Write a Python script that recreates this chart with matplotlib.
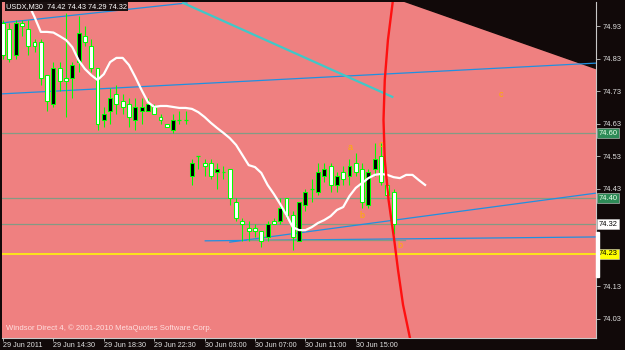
import matplotlib
matplotlib.use("Agg")
import matplotlib.pyplot as plt
import matplotlib.transforms as mtransforms

plt.rcParams["font.family"] = ["Liberation Sans", "DejaVu Sans"]

# ---- data (USDX M30, 29-30 Jun 2011) ----
opens = [74.94, 74.92, 74.84, 74.94, 74.92, 74.88, 74.88, 74.78, 74.69, 74.80,
         74.77, 74.77, 74.82, 74.90, 74.87, 74.80, 74.64, 74.67, 74.72, 74.70,
         74.69, 74.64, 74.67, 74.67, 74.68, 74.65, 74.63, 74.61, 74.64, 74.64,
         74.47, 74.53, 74.51, 74.51, 74.48, 74.48, 74.49, 74.39, 74.33, 74.31,
         74.31, 74.30, 74.28, 74.33, 74.33, 74.40, 74.35, 74.27, 74.38, 74.43,
         74.42, 74.47, 74.50, 74.44, 74.48, 74.47, 74.51, 74.49, 74.38, 74.49,
         74.53, 74.44, 74.42]
highs = [74.95, 74.94, 74.95, 74.95, 74.95, 74.89, 74.89, 74.78, 74.82, 74.82,
         74.97, 74.82, 74.96, 74.93, 74.89, 74.80, 74.68, 74.74, 74.75, 74.72,
         74.71, 74.71, 74.71, 74.71, 74.69, 74.66, 74.63, 74.66, 74.67, 74.67,
         74.52, 74.53, 74.52, 74.52, 74.51, 74.50, 74.49, 74.40, 74.34, 74.33,
         74.32, 74.30, 74.33, 74.34, 74.40, 74.40, 74.36, 74.39, 74.43, 74.46,
         74.51, 74.51, 74.51, 74.48, 74.50, 74.52, 74.54, 74.51, 74.49, 74.57,
         74.57, 74.46, 74.43]
lows = [74.83, 74.82, 74.83, 74.90, 74.84, 74.85, 74.75, 74.67, 74.68, 74.73,
        74.65, 74.71, 74.79, 74.87, 74.79, 74.61, 74.62, 74.63, 74.66, 74.66,
        74.62, 74.61, 74.63, 74.67, 74.66, 74.63, 74.62, 74.60, 74.63, 74.63,
        74.44, 74.49, 74.47, 74.46, 74.43, 74.46, 74.38, 74.33, 74.27, 74.27,
        74.28, 74.25, 74.27, 74.32, 74.32, 74.34, 74.24, 74.27, 74.36, 74.39,
        74.41, 74.45, 74.42, 74.42, 74.44, 74.44, 74.47, 74.37, 74.37, 74.47,
        74.44, 74.41, 74.29]
closes = [74.84, 74.83, 74.94, 74.93, 74.87, 74.87, 74.77, 74.70, 74.80, 74.76,
          74.76, 74.81, 74.91, 74.88, 74.80, 74.63, 74.66, 74.71, 74.69, 74.68,
          74.65, 74.68, 74.68, 74.69, 74.66, 74.64, 74.62, 74.64, 74.64, 74.64,
          74.51, 74.53, 74.50, 74.47, 74.49, 74.48, 74.40, 74.34, 74.32, 74.30,
          74.30, 74.27, 74.32, 74.32, 74.37, 74.35, 74.28, 74.39, 74.42, 74.43,
          74.48, 74.49, 74.44, 74.47, 74.46, 74.50, 74.48, 74.39, 74.48, 74.52,
          74.45, 74.41, 74.32]

# shifted moving average, starts at bar 3
ma_start = 3
ma_values = [75.035, 74.999, 74.958, 74.912, 74.912, 74.910, 74.899, 74.887, 74.865, 74.825,
             74.798, 74.779, 74.764, 74.782, 74.819, 74.832, 74.832, 74.810, 74.773, 74.733,
             74.696, 74.681, 74.684, 74.684, 74.681, 74.678, 74.678, 74.675, 74.665, 74.650,
             74.632, 74.616, 74.601, 74.585, 74.564, 74.533, 74.502, 74.496, 74.478, 74.441,
             74.413, 74.382, 74.348, 74.311, 74.302, 74.302, 74.311, 74.324, 74.333, 74.345,
             74.364, 74.373, 74.407, 74.432, 74.447, 74.462, 74.472, 74.475, 74.472, 74.465,
             74.462, 74.472, 74.472, 74.456, 74.441]

time_ticks = [0, 8, 16, 24, 32, 40, 48, 56]
time_labels = ["29 Jun 2011", "29 Jun 14:30", "29 Jun 18:30", "29 Jun 22:30",
               "30 Jun 03:00", "30 Jun 07:00", "30 Jun 11:00", "30 Jun 15:00"]
price_ticks = [74.93, 74.83, 74.73, 74.63, 74.53, 74.43, 74.13, 74.03]

# horizontal levels
gray_levels = [74.60, 74.40, 74.32]
yellow_level = 74.23
price_boxes = [(74.60, "#2e8b57", "#e8ffe8"), (74.40, "#2e8b57", "#e8ffe8"),
               (74.32, "#ffffff", "#000000"), (74.23, "#ffff00", "#000000")]

# trend lines (bar index, price)
cyan_x, cyan_y = [28.6, 61.8], [75.001, 74.712]
blue_top_x, blue_top_y = [-0.5, 29.2], [74.939, 75.001]
blue_mid_x, blue_mid_y = [-0.5, 94.2], [74.721, 74.816]
blue_low_x, blue_low_y = [36.0, 94.2], [74.265, 74.416]
blue_flat_x, blue_flat_y = [32.1, 94.2], [74.269, 74.281]
gray_seg_x, gray_seg_y = [38.7, 63.8], [74.272, 74.272]

# red arc
arc_x = [61.9, 61.1, 60.6, 60.4, 60.6, 61.2, 62.1, 62.7, 63.5, 64.6]
arc_y = [75.010, 74.887, 74.764, 74.641, 74.518, 74.395, 74.272, 74.180, 74.072, 73.970]

# black area top right
shade_x = [61.9, 95.0, 95.0]
shade_y = [75.02, 75.02, 74.795]

wave_labels = ["a", "c", "b", "b", "c"]
wave_x = [55.1, 60.0, 57.0, 63.0, 79.0]
wave_y = [74.555, 74.564, 74.348, 74.256, 74.718]

BG = "#110909"
PINK = "#ef8080"
AXC = "#c8c8c8"

fig = plt.figure(figsize=(6.25, 3.5), dpi=100, facecolor=BG)
ax = fig.add_axes([2 / 625, 12 / 350, 594 / 625, 336 / 350])
ax.set_facecolor(PINK)
ax.set_xlim(-0.16, 94.13)
ax.set_ylim(73.970, 75.004)

ax.fill(shade_x, shade_y, color=BG, zorder=1)

for lv in gray_levels:
    ax.axhline(lv, color="#849a84", lw=0.9, zorder=2)
ax.axhline(yellow_level, color="#ffff00", lw=1.1, zorder=2)

ax.plot(blue_top_x, blue_top_y, color="#2090e0", lw=0.9, zorder=2)
ax.plot(blue_mid_x, blue_mid_y, color="#2090e0", lw=0.9, zorder=2)
ax.plot(blue_low_x, blue_low_y, color="#2090e0", lw=0.9, zorder=2)
ax.plot(blue_flat_x, blue_flat_y, color="#2090e0", lw=0.9, zorder=2)
ax.plot(gray_seg_x, gray_seg_y, color="#849a84", lw=0.9, zorder=2)
ax.plot(cyan_x, cyan_y, color="#40c8c8", lw=1.6, zorder=2)

# candles
w = 0.62
for i in range(len(opens)):
    o, h, l, c = opens[i], highs[i], lows[i], closes[i]
    ax.vlines(i, l, h, color="#00ff00", lw=0.75, zorder=3)
    if abs(c - o) < 0.005:
        ax.hlines(o, i - w / 2, i + w / 2, color="#00ff00", lw=0.9, zorder=4)
    else:
        face = "#000000" if c > o else "#ffffff"
        ax.bar(i, abs(c - o), bottom=min(o, c), width=w, color=face,
               edgecolor="#00ff00", linewidth=0.75, zorder=4)

ma_x = list(range(ma_start, ma_start + len(ma_values)))
ax.plot(ma_x, ma_values, color="#ffffff", lw=1.6, zorder=5)

ax.plot(arc_x, arc_y, color="#ff1010", lw=1.7, zorder=6)

for t, xx, yy in zip(wave_labels, wave_x, wave_y):
    ax.text(xx, yy, t, color="#ffb000", fontsize=6.5, ha="center", va="center", zorder=7)

# axes styling
for s in ["left", "top"]:
    ax.spines[s].set_visible(False)
for s in ["right", "bottom"]:
    ax.spines[s].set_color(AXC)
    ax.spines[s].set_linewidth(0.8)

ax.yaxis.tick_right()
ax.set_yticks(price_ticks)
ax.set_yticklabels([f"{p:.2f}" for p in price_ticks])
ax.tick_params(axis="y", colors=AXC, labelsize=5.4, length=3, width=0.6, pad=2)
ax.set_xticks(time_ticks)
ax.set_xticklabels(time_labels, ha="left")
ax.tick_params(axis="x", colors=AXC, labelsize=5.2, length=2.5, width=0.6, pad=0.5)
for lab in ax.get_xticklabels() + ax.get_yticklabels():
    lab.set_color("#e0e0e0")

trans = mtransforms.blended_transform_factory(ax.transAxes, ax.transData)
for lv, fc, tc in price_boxes:
    ax.text(1.004, lv, f"{lv:.2f}", transform=trans, fontsize=5.4, color=tc,
            ha="left", va="center", clip_on=False, zorder=10,
            bbox=dict(boxstyle="square,pad=0.2", fc=fc, ec="#d0d0d0", lw=0.4))

# current bar marker on the right edge
fig.patches.append(plt.Rectangle((596 / 625, 1 - 277 / 350), 3 / 625, 45 / 350,
                                 transform=fig.transFigure, color="#ffffff"))

fig.text(6 / 625, 1 - 3 / 350, "USDX,M30  74.42 74.43 74.29 74.32", color="#ffffff",
         fontsize=5.3, ha="left", va="top",
         bbox=dict(boxstyle="square,pad=0.15", fc="#1a1010", ec="none"))
ax.text(0.006, 0.018, "Windsor Direct 4, \u00a9 2001-2010 MetaQuotes Software Corp.",
        transform=ax.transAxes, color="#ffe0e0", fontsize=5.6, ha="left", va="bottom")

fig.savefig("out.png", dpi=100, facecolor=BG)
